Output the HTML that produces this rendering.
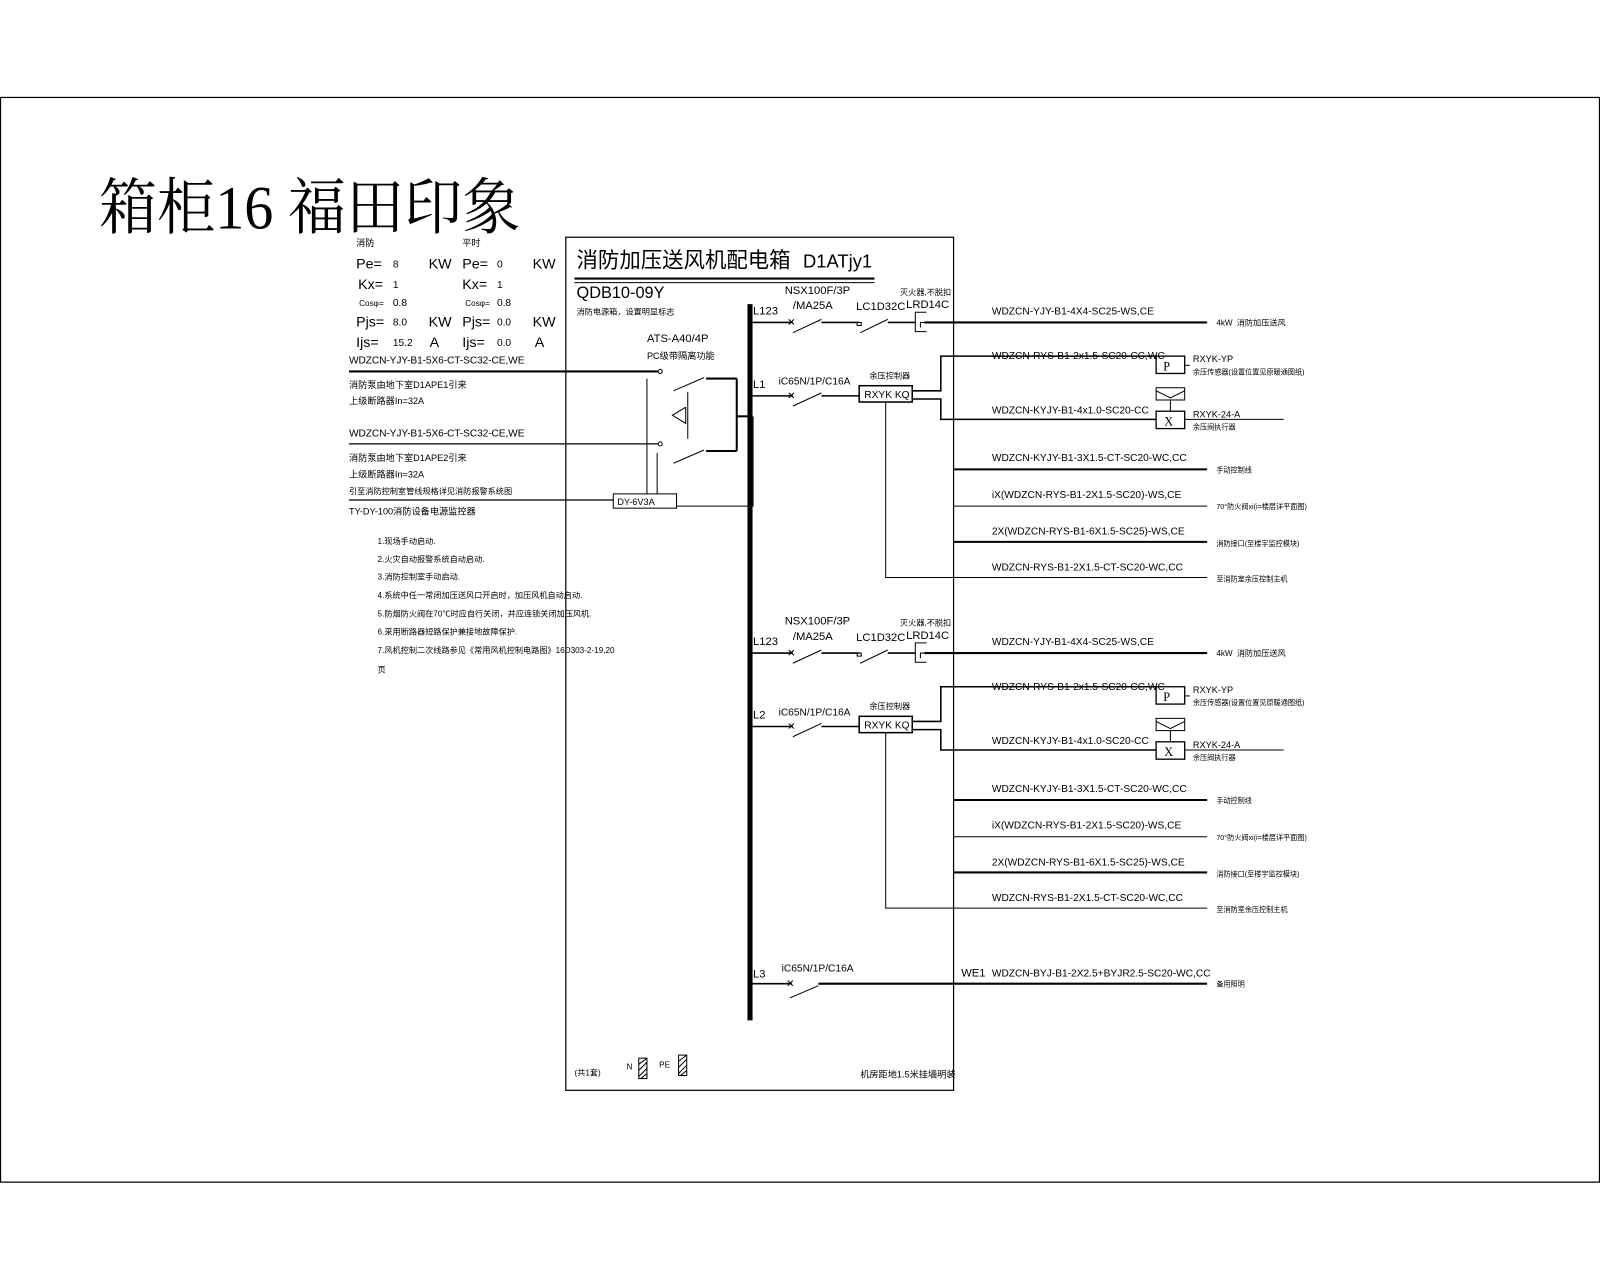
<!DOCTYPE html>
<html><head><meta charset="utf-8"><style>
html,body{margin:0;padding:0;background:#fff}
svg{display:block}
text{font-family:"Liberation Sans","Noto Sans CJK SC",sans-serif;fill:#000}
.n{font-family:"Liberation Sans Narrow","Liberation Sans","Noto Sans CJK SC",sans-serif}
</style></head><body>
<svg width="1600" height="1280" viewBox="0 0 1568 1254.4" preserveAspectRatio="none" xmlns="http://www.w3.org/2000/svg">
<rect x="0.5" y="95.5" width="1567" height="1063" fill="none" stroke="#000" stroke-width="1.2"/>
<text x="97" y="224" font-size="60" textLength="413" lengthAdjust="spacingAndGlyphs" style="font-family:'Liberation Serif','Noto Serif CJK SC',serif">箱柜16 福田印象</text>

<text x="349" y="241" font-size="9">消防</text>
<text x="453" y="241" font-size="9">平时</text>
<g font-size="14">
<text x="349" y="263">Pe=</text><text x="385" y="262" font-size="10">8</text><text x="420" y="263">KW</text>
<text x="453" y="263">Pe=</text><text x="487" y="262" font-size="10">0</text><text x="522" y="263">KW</text>
<text x="351" y="283">Kx=</text><text x="385" y="282" font-size="10">1</text>
<text x="453" y="283">Kx=</text><text x="487" y="282" font-size="10">1</text>
<text x="352" y="300" font-size="8">Cosφ=</text><text x="385" y="300" font-size="10">0.8</text>
<text x="456" y="300" font-size="8">Cosφ=</text><text x="487" y="300" font-size="10">0.8</text>
<text x="349" y="320">Pjs=</text><text x="385" y="319" font-size="10">8.0</text><text x="420" y="320">KW</text>
<text x="453" y="320">Pjs=</text><text x="487" y="319" font-size="10">0.0</text><text x="522" y="320">KW</text>
<text x="349" y="340">Ijs=</text><text x="385" y="339" font-size="10">15.2</text><text x="421" y="340">A</text>
<text x="453" y="340">Ijs=</text><text x="487" y="339" font-size="10">0.0</text><text x="524" y="340">A</text>
</g>
<g font-size="10" class="n">
<text x="342" y="356" textLength="172">WDZCN-YJY-B1-5X6-CT-SC32-CE,WE</text>
<text x="342" y="380" font-size="9">消防泵由地下室D1APE1引来</text>
<text x="342" y="396" font-size="9">上级断路器In=32A</text>
<text x="342" y="428" textLength="172">WDZCN-YJY-B1-5X6-CT-SC32-CE,WE</text>
<text x="342" y="452" font-size="9">消防泵由地下室D1APE2引来</text>
<text x="342" y="468" font-size="9">上级断路器In=32A</text>
<text x="342" y="484" font-size="8">引至消防控制室管线规格详见消防报警系统图</text>
<text x="342" y="504" font-size="9">TY-DY-100消防设备电源监控器</text>
<g font-size="8">
<text x="370" y="533">1.现场手动启动.</text>
<text x="370" y="551">2.火灾自动报警系统自动启动.</text>
<text x="370" y="568">3.消防控制室手动启动.</text>
<text x="370" y="586">4.系统中任一常闭加压送风口开启时，加压风机自动启动.</text>
<text x="370" y="604">5.防烟防火阀在70℃时应自行关闭，并应连锁关闭加压风机.</text>
<text x="370" y="622">6.采用断路器短路保护兼接地故障保护.</text>
<text x="370" y="640">7.风机控制二次线路参见《常用风机控制电路图》16D303-2-19,20</text>
<text x="370" y="659">页</text>
</g>
</g>
<g stroke="#000" fill="none">
<line x1="342" y1="364" x2="645" y2="364" stroke-width="2"/>
<line x1="342" y1="435" x2="645" y2="435" stroke-width="1.2"/>
<line x1="342" y1="490" x2="601" y2="490" stroke-width="1.2"/>
<circle cx="647" cy="364" r="2"/><circle cx="647" cy="435" r="2"/>
<line x1="660" y1="383" x2="690" y2="370"/><line x1="660" y1="454" x2="690" y2="441"/>
<line x1="692" y1="371" x2="722" y2="371" stroke-width="2"/>
<line x1="692" y1="442" x2="722" y2="442" stroke-width="2"/>
<line x1="722" y1="371" x2="722" y2="442" stroke-width="2"/>
<line x1="722" y1="408" x2="733" y2="408" stroke-width="2"/>
<line x1="674" y1="384" x2="674" y2="430"/>
<polyline points="672,399 659,407 672,415 672,399"/>
<line x1="634" y1="371" x2="634" y2="484"/>
<line x1="644" y1="444" x2="644" y2="484"/>
<rect x="601" y="484" width="62" height="14"/>
<polyline points="663,496 738,496 738,408"/>
<rect x="554.5" y="232.5" width="380" height="836" stroke-width="1.2"/>
<line x1="563" y1="273" x2="857" y2="273" stroke-width="2"/>
<line x1="563" y1="277" x2="857" y2="277"/>
<line x1="735" y1="298" x2="735" y2="1000" stroke-width="5"/>
</g>
<text x="565" y="262" font-size="21">消防加压送风机配电箱</text>
<text x="787" y="262" font-size="18" class="n">D1ATjy1</text>
<text x="565" y="292" font-size="16" class="n">QDB10-09Y</text>
<text x="565" y="308" font-size="8">消防电源箱，设置明显标志</text>
<text x="634" y="335" font-size="11" class="n">ATS-A40/4P</text>
<text x="634" y="352" font-size="9">PC级带隔离功能</text>
<text x="605" y="495" font-size="9" class="n">DY-6V3A</text>

<g>
<g font-size="11" class="n">
<text x="738" y="308">L123</text>
<text x="769" y="288">NSX100F/3P</text>
<text x="777" y="303">/MA25A</text>
<text x="839" y="304">LC1D32C</text>
<text x="882" y="289" font-size="8">灭火器,不脱扣</text>
<text x="888" y="302">LRD14C</text>
<text x="972" y="308" font-size="10">WDZCN-YJY-B1-4X4-SC25-WS,CE</text>
<text x="1192" y="319" font-size="8">4kW</text><text x="1212" y="319" font-size="8">消防加压送风</text>
<text x="738" y="380">L1</text>
<text x="763" y="377" font-size="10">iC65N/1P/C16A</text>
<text x="852" y="371" font-size="8">余压控制器</text>
<text x="847" y="390" font-size="10">RXYK KQ</text>
<text x="972" y="352" font-size="10">WDZCN-RYS-B1-2x1.5-SC20-CC,WC</text>
<text x="972" y="405" font-size="10">WDZCN-KYJY-B1-4x1.0-SC20-CC</text>
<text x="1169" y="355" font-size="9">RXYK-YP</text>
<text x="1169" y="367" font-size="7">余压传感器(设置位置见原暖通图纸)</text>
<text x="1169" y="409" font-size="9">RXYK-24-A</text>
<text x="1169" y="421" font-size="7">余压阀执行器</text>
<text x="1140" y="363" font-size="12" style="font-family:'Liberation Serif',serif">P</text>
<text x="1141" y="417" font-size="12" style="font-family:'Liberation Serif',serif">X</text>
<text x="972" y="452" font-size="10">WDZCN-KYJY-B1-3X1.5-CT-SC20-WC,CC</text>
<text x="972" y="488" font-size="10">iX(WDZCN-RYS-B1-2X1.5-SC20)-WS,CE</text>
<text x="972" y="524" font-size="10">2X(WDZCN-RYS-B1-6X1.5-SC25)-WS,CE</text>
<text x="972" y="559" font-size="10">WDZCN-RYS-B1-2X1.5-CT-SC20-WC,CC</text>
<text x="1192" y="463" font-size="7">手动控制线</text>
<text x="1192" y="499" font-size="7">70°防火阀xi(i=楼层详平面图)</text>
<text x="1192" y="535" font-size="7">消防接口(至楼宇监控模块)</text>
<text x="1192" y="570" font-size="7">至消防室余压控制主机</text>
</g>
<g stroke="#000" fill="none">
<line x1="735" y1="316" x2="777" y2="316" stroke-width="1.5"/>
<path d="M773,313 l5,5 M778,313 l-5,5"/>
<line x1="777" y1="326" x2="805" y2="313"/>
<line x1="805" y1="316" x2="842" y2="316" stroke-width="1.5"/>
<rect x="840" y="316" width="4" height="3"/>
<line x1="843" y1="326" x2="870" y2="313"/>
<line x1="870" y1="316" x2="897" y2="316" stroke-width="1.5"/>
<polyline points="908,306 897,306 897,325 908,325"/>
<polyline points="902,321 902,316 908,316"/>
<line x1="906" y1="316" x2="1183" y2="316" stroke-width="2"/>
<line x1="735" y1="388" x2="777" y2="388" stroke-width="1.5"/>
<path d="M773,385 l5,5 M778,385 l-5,5"/>
<line x1="777" y1="398" x2="805" y2="385"/>
<line x1="805" y1="388" x2="842" y2="388" stroke-width="1.5"/>
<rect x="842" y="378" width="52" height="16" stroke-width="1.5"/>
<polyline points="894,383 922,383 922,349 1133,349" stroke-width="1.5"/>
<polyline points="894,391 922,391 922,411 1133,411" stroke-width="1.5"/>
<rect x="1133" y="349" width="28" height="17" stroke-width="1.3"/>
<rect x="1133" y="403" width="28" height="17" stroke-width="1.3"/>
<rect x="1133" y="380" width="28" height="12"/>
<path d="M1133,383 L1147,390 L1161,383 M1147,392 L1147,403"/>
<line x1="1161" y1="358" x2="1166" y2="358"/>
<line x1="1161" y1="411" x2="1258" y2="411"/>
<polyline points="868,394 868,566 934,566"/>
<line x1="934" y1="460" x2="1183" y2="460" stroke-width="2"/>
<line x1="934" y1="496" x2="1183" y2="496"/>
<line x1="934" y1="531" x2="1183" y2="531" stroke-width="2"/>
<line x1="934" y1="566" x2="1183" y2="566"/>
</g>
</g>

<g transform="translate(0,324)">
<g font-size="11" class="n">
<text x="738" y="308">L123</text>
<text x="769" y="288">NSX100F/3P</text>
<text x="777" y="303">/MA25A</text>
<text x="839" y="304">LC1D32C</text>
<text x="882" y="289" font-size="8">灭火器,不脱扣</text>
<text x="888" y="302">LRD14C</text>
<text x="972" y="308" font-size="10">WDZCN-YJY-B1-4X4-SC25-WS,CE</text>
<text x="1192" y="319" font-size="8">4kW</text><text x="1212" y="319" font-size="8">消防加压送风</text>
<text x="738" y="380">L2</text>
<text x="763" y="377" font-size="10">iC65N/1P/C16A</text>
<text x="852" y="371" font-size="8">余压控制器</text>
<text x="847" y="390" font-size="10">RXYK KQ</text>
<text x="972" y="352" font-size="10">WDZCN-RYS-B1-2x1.5-SC20-CC,WC</text>
<text x="972" y="405" font-size="10">WDZCN-KYJY-B1-4x1.0-SC20-CC</text>
<text x="1169" y="355" font-size="9">RXYK-YP</text>
<text x="1169" y="367" font-size="7">余压传感器(设置位置见原暖通图纸)</text>
<text x="1169" y="409" font-size="9">RXYK-24-A</text>
<text x="1169" y="421" font-size="7">余压阀执行器</text>
<text x="1140" y="363" font-size="12" style="font-family:'Liberation Serif',serif">P</text>
<text x="1141" y="417" font-size="12" style="font-family:'Liberation Serif',serif">X</text>
<text x="972" y="452" font-size="10">WDZCN-KYJY-B1-3X1.5-CT-SC20-WC,CC</text>
<text x="972" y="488" font-size="10">iX(WDZCN-RYS-B1-2X1.5-SC20)-WS,CE</text>
<text x="972" y="524" font-size="10">2X(WDZCN-RYS-B1-6X1.5-SC25)-WS,CE</text>
<text x="972" y="559" font-size="10">WDZCN-RYS-B1-2X1.5-CT-SC20-WC,CC</text>
<text x="1192" y="463" font-size="7">手动控制线</text>
<text x="1192" y="499" font-size="7">70°防火阀xi(i=楼层详平面图)</text>
<text x="1192" y="535" font-size="7">消防接口(至楼宇监控模块)</text>
<text x="1192" y="570" font-size="7">至消防室余压控制主机</text>
</g>
<g stroke="#000" fill="none">
<line x1="735" y1="316" x2="777" y2="316" stroke-width="1.5"/>
<path d="M773,313 l5,5 M778,313 l-5,5"/>
<line x1="777" y1="326" x2="805" y2="313"/>
<line x1="805" y1="316" x2="842" y2="316" stroke-width="1.5"/>
<rect x="840" y="316" width="4" height="3"/>
<line x1="843" y1="326" x2="870" y2="313"/>
<line x1="870" y1="316" x2="897" y2="316" stroke-width="1.5"/>
<polyline points="908,306 897,306 897,325 908,325"/>
<polyline points="902,321 902,316 908,316"/>
<line x1="906" y1="316" x2="1183" y2="316" stroke-width="2"/>
<line x1="735" y1="388" x2="777" y2="388" stroke-width="1.5"/>
<path d="M773,385 l5,5 M778,385 l-5,5"/>
<line x1="777" y1="398" x2="805" y2="385"/>
<line x1="805" y1="388" x2="842" y2="388" stroke-width="1.5"/>
<rect x="842" y="378" width="52" height="16" stroke-width="1.5"/>
<polyline points="894,383 922,383 922,349 1133,349" stroke-width="1.5"/>
<polyline points="894,391 922,391 922,411 1133,411" stroke-width="1.5"/>
<rect x="1133" y="349" width="28" height="17" stroke-width="1.3"/>
<rect x="1133" y="403" width="28" height="17" stroke-width="1.3"/>
<rect x="1133" y="380" width="28" height="12"/>
<path d="M1133,383 L1147,390 L1161,383 M1147,392 L1147,403"/>
<line x1="1161" y1="358" x2="1166" y2="358"/>
<line x1="1161" y1="411" x2="1258" y2="411"/>
<polyline points="868,394 868,566 934,566"/>
<line x1="934" y1="460" x2="1183" y2="460" stroke-width="2"/>
<line x1="934" y1="496" x2="1183" y2="496"/>
<line x1="934" y1="531" x2="1183" y2="531" stroke-width="2"/>
<line x1="934" y1="566" x2="1183" y2="566"/>
</g>
</g>

<g font-size="11" class="n">
<text x="738" y="958">L3</text>
<text x="766" y="952" font-size="10">iC65N/1P/C16A</text>
<text x="942" y="957">WE1</text>
<text x="972" y="957" font-size="10">WDZCN-BYJ-B1-2X2.5+BYJR2.5-SC20-WC,CC</text>
<text x="1192" y="967" font-size="7">备用照明</text>
<text x="563" y="1054" font-size="8">(共1套)</text>
<text x="614" y="1048" font-size="8">N</text>
<text x="646" y="1046" font-size="8">PE</text>
<text x="843" y="1056" font-size="9">机房距地1.5米挂墙明装</text>
</g>
<g stroke="#000" fill="none">
<line x1="735" y1="964" x2="776" y2="964" stroke-width="1.5"/>
<path d="M772,961 l5,5 M777,961 l-5,5"/>
<line x1="774" y1="978" x2="802" y2="966"/>
<line x1="802" y1="964" x2="1183" y2="964" stroke-width="2"/>
<rect x="626" y="1037" width="8" height="20"/>
<path d="M626,1043 l8,-6 M626,1049 l8,-8 M626,1055 l8,-8 M628,1057 l6,-5"/>
<rect x="665" y="1034" width="8" height="20"/>
<path d="M665,1040 l8,-6 M665,1046 l8,-8 M665,1052 l8,-8 M667,1054 l6,-5"/>
</g>
</svg>
</body></html>
